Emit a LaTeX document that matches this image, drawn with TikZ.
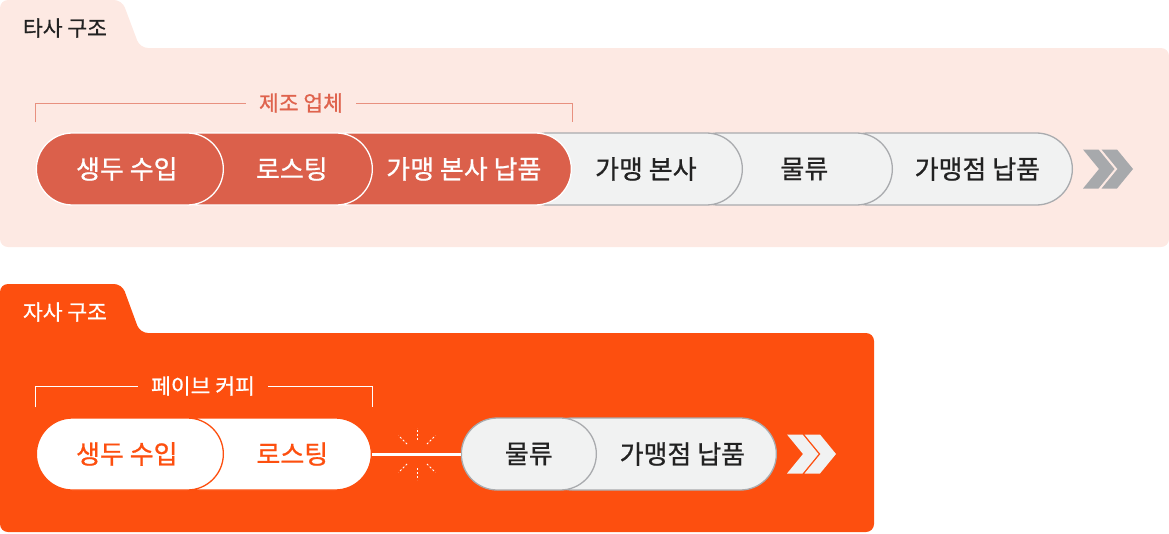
\documentclass[tikz,border=0pt]{standalone}
\usepackage{fontspec}
\setmainfont{Noto Sans CJK KR}[FakeBold=0.8]
\definecolor{pinkbg}{HTML}{FDE9E3}
\definecolor{orangebg}{HTML}{FD4F0F}
\definecolor{redfill}{HTML}{DB604B}
\definecolor{redtext}{HTML}{DF634D}
\definecolor{redline}{HTML}{E8907F}
\definecolor{greyfill}{HTML}{F1F2F2}
\definecolor{greyline}{HTML}{A9ABAE}
\definecolor{chevgrey}{HTML}{A7A9AC}
\definecolor{darktext}{HTML}{222222}

\begin{document}
\begin{tikzpicture}[x=1pt,y=-1pt,
  pill/.style={rectangle,rounded corners=36pt,minimum height=72pt,inner sep=0pt,line width=1.3pt,anchor=east},
  redpill/.style={pill,fill=redfill,draw=white},
  greypill/.style={pill,fill=greyfill,draw=greyline},
  whitepill/.style={pill,fill=white,draw=orangebg},
  ptext/.style={font=\fontsize{26}{26}\selectfont},
  title/.style={font=\fontsize{21.5}{21.5}\selectfont},
  tag/.style={font=\fontsize{21.5}{21.5}\selectfont,inner xsep=13pt}]
\useasboundingbox (0,0) rectangle (1169,533);

% other company
\fill[pinkbg,rounded corners=8pt] (0,247) -- (0,0) -- (122,0) -- (140,48) -- (1169,48) -- (1169,247) -- cycle;
\node[title,text=darktext] (other) at (65,28) {타사 구조};

\node[greypill,minimum width=240pt,label={[ptext,text=darktext,xshift=25pt]center:가맹점 납품}] (p6) at (1073,169) {};
\node[greypill,minimum width=210pt,label={[ptext,text=darktext,xshift=17pt]center:물류}] (p5) at (893,169) {};
\node[greypill,minimum width=231pt,label={[ptext,text=darktext,xshift=19pt]center:가맹 본사}] (p4) at (743,169) {};
\node[redpill,minimum width=259pt,label={[ptext,text=white,xshift=22pt]center:가맹 본사 납품}] (p3) at (572,169) {};
\node[redpill,minimum width=209pt,label={[ptext,text=white,xshift=24pt]center:로스팅}] (p2) at (373,169) {};
\node[redpill,minimum width=187pt,label={[ptext,text=white,xshift=-3pt]center:생두 수입}] (p1) at (224,169) {};

\node[tag,text=redtext] (maker) at (301,103) {제조 업체};
\draw[redline,line width=1pt] ([yshift=10pt]p1.north west) |- (maker.west);
\draw[redline,line width=1pt] (maker.east) -| ([yshift=10pt]p3.north east);

\foreach \s in {10,28.5}
  \fill[chevgrey] ([xshift=\s pt]p6.east) ++(0,-19.5) -- ++(15.5,0) -- ++(16,19.5) -- ++(-16,19.5) -- ++(-15.5,0) -- ++(16,-19.5) -- cycle;

% own company
\fill[orangebg,rounded corners=8pt] (0,532) -- (0,284) -- (122,284) -- (140,333) -- (874,333) -- (874,532) -- cycle;
\node[title,text=white] (own) at (65,312) {자사 구조};

\node[whitepill,minimum width=208pt,label={[ptext,text=orangebg,xshift=25pt]center:로스팅}] (q2) at (372,454) {};
\node[whitepill,minimum width=187pt,label={[ptext,text=orangebg,xshift=-3pt]center:생두 수입}] (q1) at (224,454) {};
\node[greypill,minimum width=240pt,label={[ptext,text=darktext,xshift=26pt]center:가맹점 납품}] (q4) at (777,454) {};
\node[greypill,minimum width=135pt,label={[ptext,text=darktext]center:물류}] (q3) at (597,454) {};

\node[tag,text=white] (pave) at (203,386) {페이브 커피};
\draw[white,line width=1pt] ([yshift=10pt]q1.north west) |- (pave.west);
\draw[white,line width=1pt] (pave.east) -| ([yshift=10pt]q2.north east);

\draw[white,line width=3pt] (q2.east) -- (q3.west);
\coordinate (spark) at (417,454);
\foreach \a in {45,90,135,225,270,315}
  \draw[white,line width=1pt,dash pattern=on 2pt off 2pt] ([shift={(\a:14pt)}]spark) -- ([shift={(\a:26pt)}]spark);

\foreach \s in {10,27.5}
  \fill[greyfill] ([xshift=\s pt]q4.east) ++(0,-19.5) -- ++(15.5,0) -- ++(16,19.5) -- ++(-16,19.5) -- ++(-15.5,0) -- ++(16,-19.5) -- cycle;
\end{tikzpicture}
\end{document}
